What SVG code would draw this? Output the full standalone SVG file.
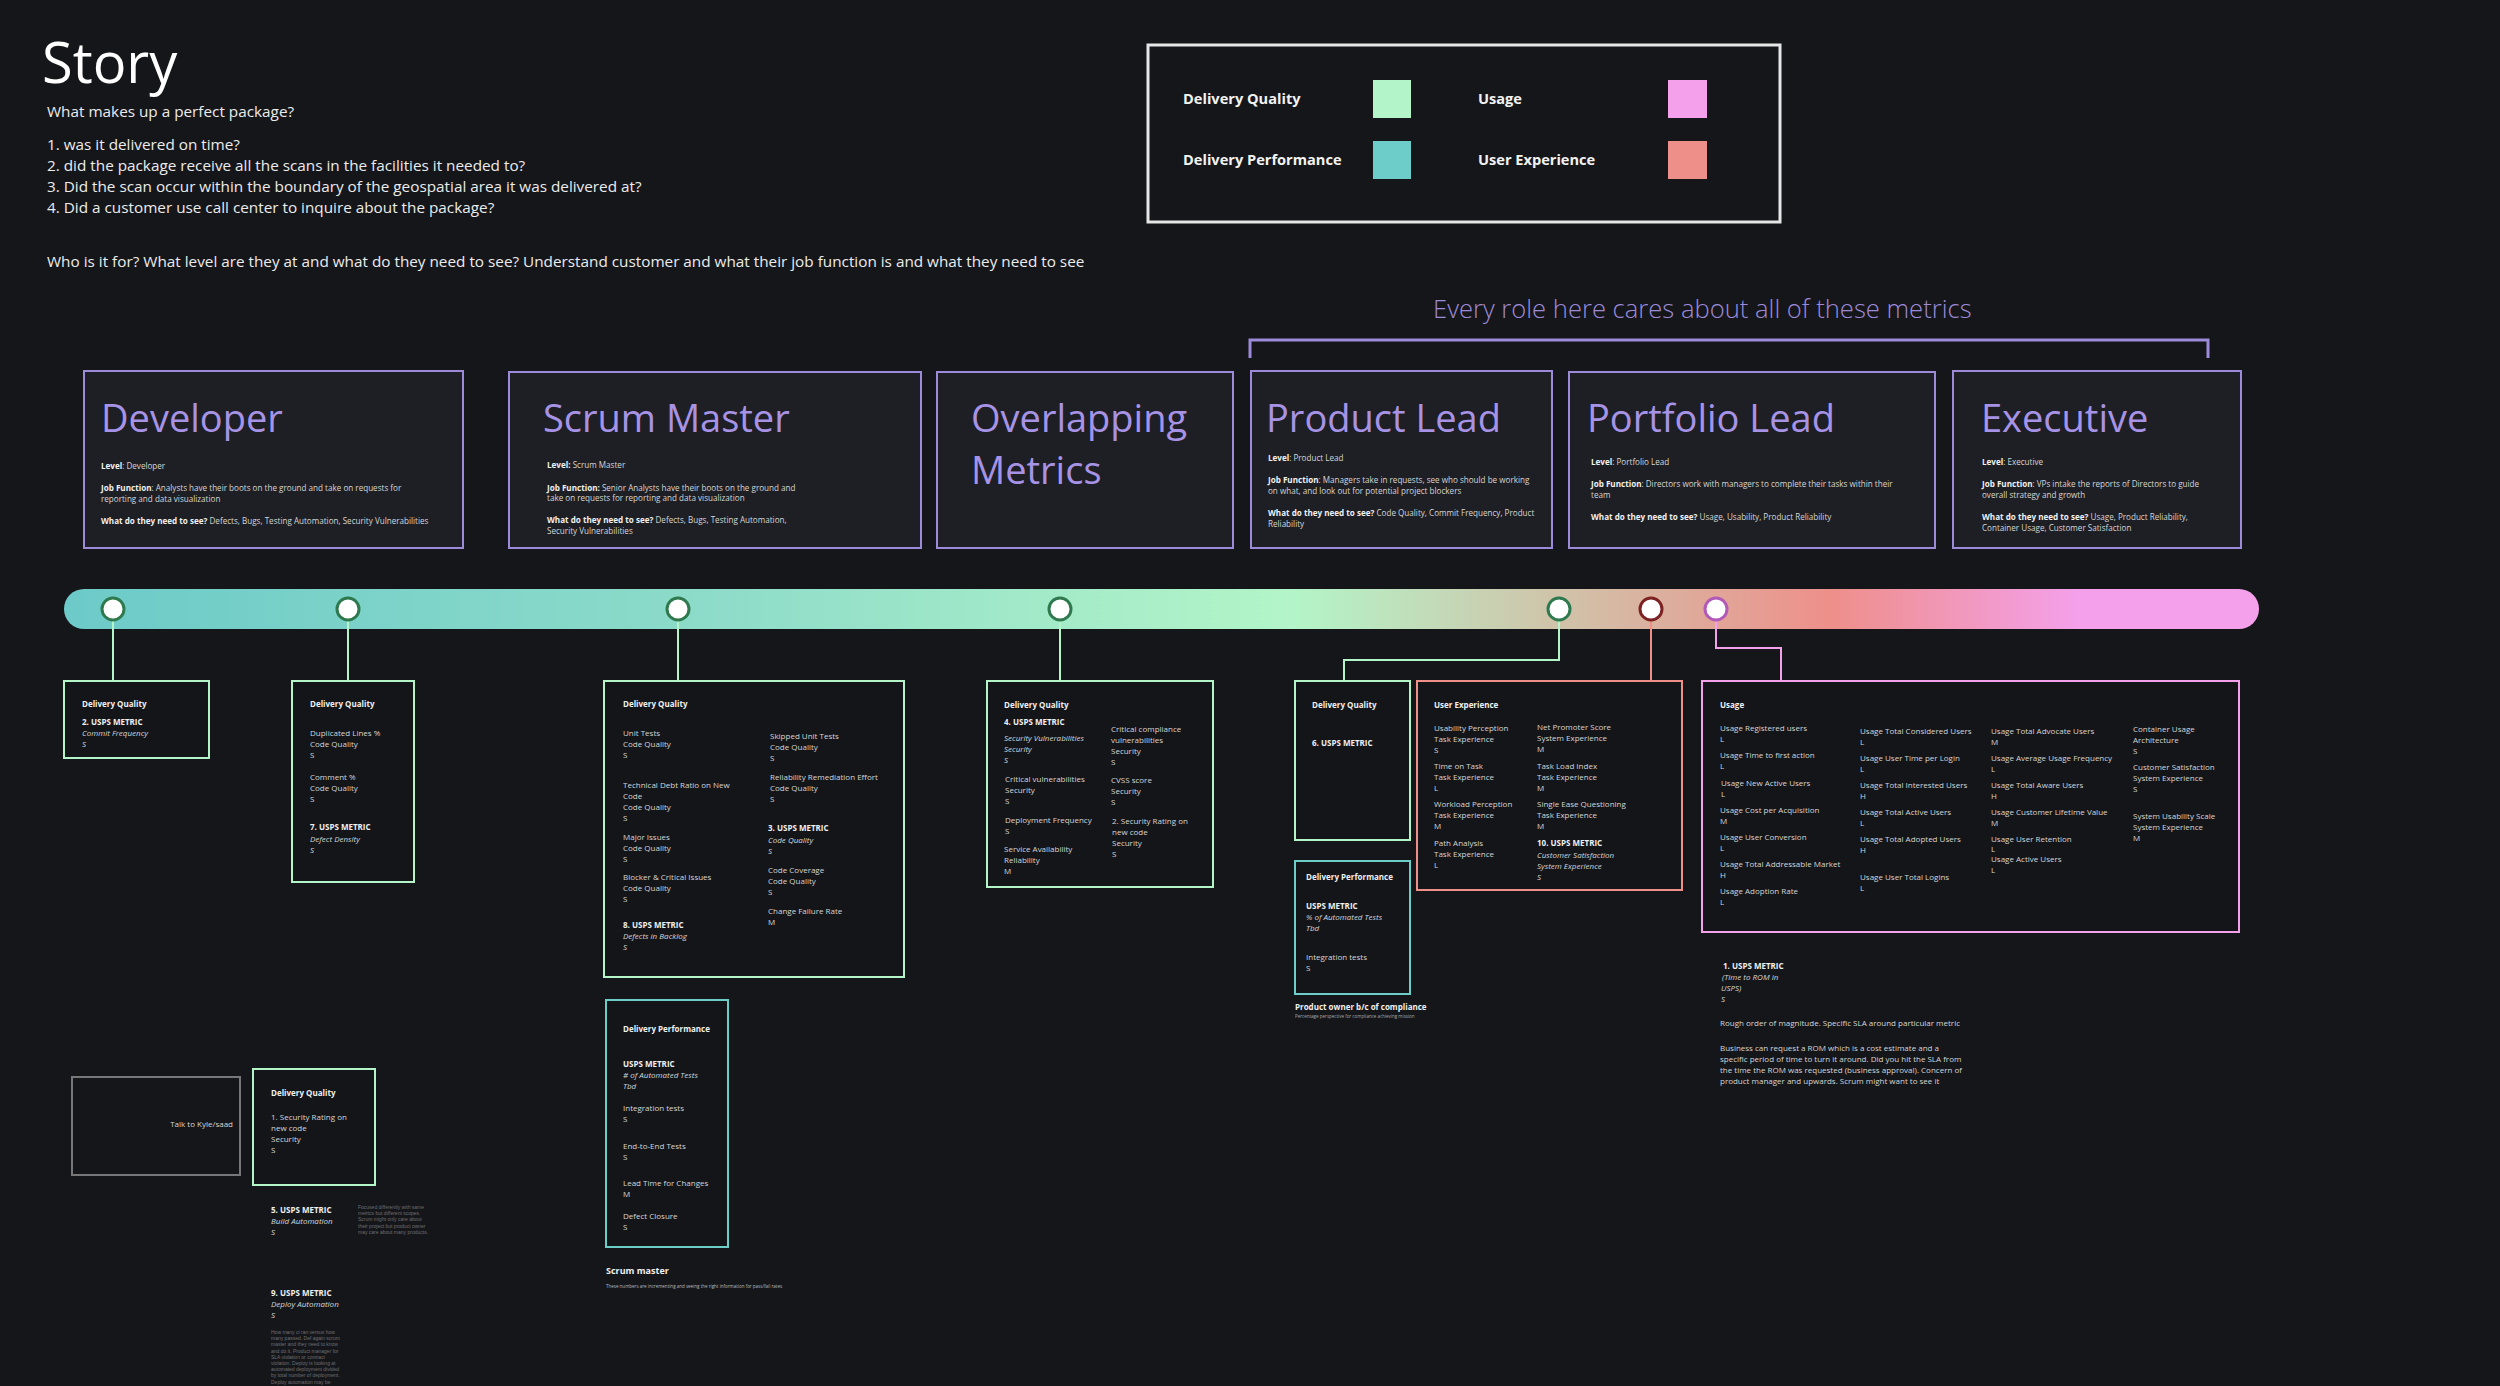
<svg xmlns="http://www.w3.org/2000/svg" width="2500" height="1386" viewBox="0 0 2500 1386">
<defs>
<linearGradient id="tl" x1="64" y1="0" x2="2259" y2="0" gradientUnits="userSpaceOnUse">
<stop offset="0" stop-color="#6ccac8"/>
<stop offset="0.3" stop-color="#8edcc9"/>
<stop offset="0.56" stop-color="#b3f5c8"/>
<stop offset="0.806" stop-color="#ee8f8a"/>
<stop offset="0.917" stop-color="#f4a0ea"/>
<stop offset="1" stop-color="#f4a0ea"/>
</linearGradient>
<style>
text{font-family:"Open Sans","Liberation Sans",sans-serif;fill:#d6d6d6;font-size:8px}
.b{font-weight:bold;fill:#f0f0f0}
.i{font-style:italic}
.q{font-size:15.3px;fill:#ececec}
.cd{font-size:8.1px}
.card{fill:#1e1f24;stroke:#9d8ad9;stroke-width:2}
.title{font-size:38px;fill:#a793e6}
.box{fill:#141519;stroke-width:2}
.dq{stroke:#b3f5c8}
.dp{stroke:#6ccdc9}
.ux{stroke:#ee8f8a}
.us{stroke:#f4a0ea}
.cn{fill:none;stroke-width:2}
.dot{fill:#ffffff;stroke-width:3}
.note{font-family:"Liberation Sans",Arial,sans-serif;font-size:5px;fill:#6e6e72}
.lg{font-size:14.6px;font-weight:bold;fill:#f2f2f2}
</style>
</defs>
<rect width="2500" height="1386" fill="#15161a"/>

<g id="header">
<text x="42" y="83" style="font-size:56px;fill:#ffffff">Story</text>
<text class="q" x="47" y="117">What makes up a perfect package?</text>
<text class="q" x="47" y="150">1. was it delivered on time?</text>
<text class="q" x="47" y="171">2. did the package receive all the scans in the facilities it needed to?</text>
<text class="q" x="47" y="192">3. Did the scan occur within the boundary of the geospatial area it was delivered at?</text>
<text class="q" x="47" y="213">4. Did a customer use call center to inquire about the package?</text>
<text class="q" x="47" y="267">Who is it for? What level are they at and what do they need to see? Understand customer and what their job function is and what they need to see</text>
</g>

<g id="legend">
<rect x="1148" y="45" width="632" height="177" fill="#15161a" stroke="#e6e6e6" stroke-width="3"/>
<text class="lg" x="1183" y="104">Delivery Quality</text>
<rect x="1373" y="80" width="38" height="38" fill="#b3f5c8"/>
<text class="lg" x="1183" y="165">Delivery Performance</text>
<rect x="1373" y="141" width="38" height="38" fill="#6ccdc9"/>
<text class="lg" x="1478" y="104">Usage</text>
<rect x="1668" y="80" width="39" height="38" fill="#f4a0ea"/>
<text class="lg" x="1478" y="165">User Experience</text>
<rect x="1668" y="141" width="39" height="38" fill="#ee8f8a"/>
</g>

<g id="bracket">
<text x="1433" y="318" style="font-size:25.6px;font-weight:300;fill:#9d8ad9">Every role here cares about all of these metrics</text>
<path d="M1250 358 V340 H2208 V358" fill="none" stroke="#9d8ad9" stroke-width="3"/>
</g>

<g id="card-developer">
<rect class="card" x="84" y="371" width="379" height="177"/>
<text class="title" x="101" y="432">Developer</text>
<text class="cd" x="101" y="469"><tspan class="b">Level</tspan>: Developer</text>
<text class="cd" x="101" y="491"><tspan class="b">Job Function</tspan>: Analysts have their boots on the ground and take on requests for</text>
<text class="cd" x="101" y="502">reporting and data visualization</text>
<text class="cd" x="101" y="524"><tspan class="b">What do they need to see?</tspan> Defects, Bugs, Testing Automation, Security Vulnerabilities</text>
</g>

<g id="card-scrum">
<rect class="card" x="509" y="372" width="412" height="176"/>
<text class="title" x="543" y="432">Scrum Master</text>
<text class="cd" x="547" y="468"><tspan class="b">Level:</tspan> Scrum Master</text>
<text class="cd" x="547" y="491"><tspan class="b">Job Function:</tspan> Senior Analysts have their boots on the ground and</text>
<text class="cd" x="547" y="501">take on requests for reporting and data visualization</text>
<text class="cd" x="547" y="523"><tspan class="b">What do they need to see?</tspan> Defects, Bugs, Testing Automation,</text>
<text class="cd" x="547" y="534">Security Vulnerabilities</text>
</g>

<g id="card-overlap">
<rect class="card" x="937" y="372" width="296" height="176"/>
<text class="title" x="971" y="432">Overlapping</text>
<text class="title" x="971" y="484">Metrics</text>
</g>

<g id="card-product">
<rect class="card" x="1251" y="371" width="301" height="177"/>
<text class="title" x="1266" y="432">Product Lead</text>
<text class="cd" x="1268" y="461"><tspan class="b">Level</tspan>: Product Lead</text>
<text class="cd" x="1268" y="483"><tspan class="b">Job Function</tspan>: Managers take in requests, see who should be working</text>
<text class="cd" x="1268" y="494">on what, and look out for potential project blockers</text>
<text class="cd" x="1268" y="516"><tspan class="b">What do they need to see?</tspan> Code Quality, Commit Frequency, Product</text>
<text class="cd" x="1268" y="527">Reliability</text>
</g>

<g id="card-portfolio">
<rect class="card" x="1569" y="372" width="366" height="176"/>
<text class="title" x="1587" y="432">Portfolio Lead</text>
<text class="cd" x="1591" y="465"><tspan class="b">Level</tspan>: Portfolio Lead</text>
<text class="cd" x="1591" y="487"><tspan class="b">Job Function</tspan>: Directors work with managers to complete their tasks within their</text>
<text class="cd" x="1591" y="498">team</text>
<text class="cd" x="1591" y="520"><tspan class="b">What do they need to see?</tspan> Usage, Usability,  Product Reliability</text>
</g>

<g id="card-executive">
<rect class="card" x="1953" y="371" width="288" height="177"/>
<text class="title" x="1981" y="432">Executive</text>
<text class="cd" x="1982" y="465"><tspan class="b">Level</tspan>: Executive</text>
<text class="cd" x="1982" y="487"><tspan class="b">Job Function</tspan>: VPs intake the reports of Directors to guide</text>
<text class="cd" x="1982" y="498">overall strategy and growth</text>
<text class="cd" x="1982" y="520"><tspan class="b">What do they need to see?</tspan> Usage, Product Reliability,</text>
<text class="cd" x="1982" y="531">Container Usage, Customer Satisfaction</text>
</g>

<g id="timeline">
<rect x="64" y="589" width="2195" height="40" rx="20" fill="url(#tl)"/>
</g>

<g id="connectors">
<path class="cn" stroke="#b3f5c8" d="M113 621 V681"/>
<path class="cn" stroke="#b3f5c8" d="M348 621 V681"/>
<path class="cn" stroke="#b3f5c8" d="M678 621 V681"/>
<path class="cn" stroke="#b3f5c8" d="M1060 621 V681"/>
<path class="cn" stroke="#b3f5c8" d="M1559 621 V660 H1344 V681"/>
<path class="cn" stroke="#ee8f8a" d="M1651 621 V681"/>
<path class="cn" stroke="#f4a0ea" d="M1716 621 V648 H1781 V681"/>
</g>

<g id="timeline-dots">
<circle class="dot" cx="113" cy="609" r="11" stroke="#2e7a4e"/>
<circle class="dot" cx="348" cy="609" r="11" stroke="#2e7a4e"/>
<circle class="dot" cx="678" cy="609" r="11" stroke="#2e7a4e"/>
<circle class="dot" cx="1060" cy="609" r="11" stroke="#2e7a4e"/>
<circle class="dot" cx="1559" cy="609" r="11" stroke="#2e7a4e"/>
<circle class="dot" cx="1651" cy="609" r="11" stroke="#7c2222"/>
<circle class="dot" cx="1716" cy="609" r="11" stroke="#b25ab8"/>
</g>

<g id="dev-dq-1">
<rect class="box dq" x="64" y="681" width="145" height="77"/>
<text class="b" x="82" y="707">Delivery Quality</text>
<text class="b" x="82" y="725">2. USPS METRIC</text>
<text class="i" x="82" y="736">Commit Frequency</text>
<text class="i" x="82" y="747">S</text>
</g>

<g id="dev-dq-2">
<rect class="box dq" x="292" y="681" width="122" height="201"/>
<text class="b" x="310" y="707">Delivery Quality</text>
<text x="310" y="736">Duplicated Lines %</text>
<text x="310" y="747">Code Quality</text>
<text x="310" y="758">S</text>
<text x="310" y="780">Comment %</text>
<text x="310" y="791">Code Quality</text>
<text x="310" y="802">S</text>
<text class="b" x="310" y="830">7. USPS METRIC</text>
<text class="i" x="310" y="842">Defect Density</text>
<text class="i" x="310" y="853">S</text>
</g>

<g id="scrum-dq">
<rect class="box dq" x="604" y="681" width="300" height="296"/>
<text class="b" x="623" y="707">Delivery Quality</text>
<text x="623" y="736">Unit Tests</text>
<text x="623" y="747">Code Quality</text>
<text x="623" y="758">S</text>
<text x="623" y="788">Technical Debt Ratio on New</text>
<text x="623" y="799">Code</text>
<text x="623" y="810">Code Quality</text>
<text x="623" y="821">S</text>
<text x="623" y="840">Major Issues</text>
<text x="623" y="851">Code Quality</text>
<text x="623" y="862">S</text>
<text x="623" y="880">Blocker &amp; Critical Issues</text>
<text x="623" y="891">Code Quality</text>
<text x="623" y="902">S</text>
<text class="b" x="623" y="928">8. USPS METRIC</text>
<text class="i" x="623" y="939">Defects in Backlog</text>
<text class="i" x="623" y="950">S</text>
<text x="770" y="739">Skipped Unit Tests</text>
<text x="770" y="750">Code Quality</text>
<text x="770" y="761">S</text>
<text x="770" y="780">Reliability Remediation Effort</text>
<text x="770" y="791">Code Quality</text>
<text x="770" y="802">S</text>
<text class="b" x="768" y="831">3. USPS METRIC</text>
<text class="i" x="768" y="843">Code Quality</text>
<text class="i" x="768" y="854">S</text>
<text x="768" y="873">Code Coverage</text>
<text x="768" y="884">Code Quality</text>
<text x="768" y="895">S</text>
<text x="768" y="914">Change Failure Rate</text>
<text x="768" y="925">M</text>
</g>

<g id="scrum-dp">
<rect class="box dp" x="606" y="1000" width="122" height="247"/>
<text class="b" x="623" y="1032">Delivery Performance</text>
<text class="b" x="623" y="1067">USPS METRIC</text>
<text class="i" x="623" y="1078"># of Automated Tests</text>
<text class="i" x="623" y="1089">Tbd</text>
<text x="623" y="1111">Integration tests</text>
<text x="623" y="1122">S</text>
<text x="623" y="1149">End-to-End Tests</text>
<text x="623" y="1160">S</text>
<text x="623" y="1186">Lead Time for Changes</text>
<text x="623" y="1197">M</text>
<text x="623" y="1219">Defect Closure</text>
<text x="623" y="1230">S</text>
<text class="b" x="606" y="1274" style="font-size:9px">Scrum master</text>
<text x="606" y="1288" style="font-size:4.5px;fill:#bbbbbb">These numbers are incrementing and seeing the right information for pass/fail rates</text>
</g>

<g id="overlap-dq">
<rect class="box dq" x="987" y="681" width="226" height="206"/>
<text class="b" x="1004" y="708">Delivery Quality</text>
<text class="b" x="1004" y="725">4. USPS METRIC</text>
<text class="i" x="1004" y="741">Security Vulnerabilities</text>
<text class="i" x="1004" y="752">Security</text>
<text class="i" x="1004" y="763">S</text>
<text x="1005" y="782">Critical vulnerabilities</text>
<text x="1005" y="793">Security</text>
<text x="1005" y="804">S</text>
<text x="1005" y="823">Deployment Frequency</text>
<text x="1005" y="834">S</text>
<text x="1004" y="852">Service Availability</text>
<text x="1004" y="863">Reliability</text>
<text x="1004" y="874">M</text>
<text x="1111" y="732">Critical compliance</text>
<text x="1111" y="743">vulnerabilities</text>
<text x="1111" y="754">Security</text>
<text x="1111" y="765">S</text>
<text x="1111" y="783">CVSS score</text>
<text x="1111" y="794">Security</text>
<text x="1111" y="805">S</text>
<text x="1112" y="824">2. Security Rating on</text>
<text x="1112" y="835">new code</text>
<text x="1112" y="846">Security</text>
<text x="1112" y="857">S</text>
</g>

<g id="product-dq">
<rect class="box dq" x="1295" y="681" width="115" height="159"/>
<text class="b" x="1312" y="708">Delivery Quality</text>
<text class="b" x="1312" y="746">6. USPS METRIC</text>
</g>

<g id="product-dp">
<rect class="box dp" x="1295" y="861" width="115" height="133"/>
<text class="b" x="1306" y="880">Delivery Performance</text>
<text class="b" x="1306" y="909">USPS METRIC</text>
<text class="i" x="1306" y="920">% of Automated Tests</text>
<text class="i" x="1306" y="931">Tbd</text>
<text x="1306" y="960">Integration tests</text>
<text x="1306" y="971">S</text>
<text class="b" x="1295" y="1010">Product owner b/c of compliance</text>
<text x="1295" y="1018" style="font-size:4.5px;fill:#aaaaaa">Percentage perspective for compliance achieving mission</text>
</g>

<g id="portfolio-ux">
<rect class="box ux" x="1417" y="681" width="265" height="209"/>
<text class="b" x="1434" y="708">User Experience</text>
<text x="1434" y="731">Usability Perception</text>
<text x="1434" y="742">Task Experience</text>
<text x="1434" y="753">S</text>
<text x="1434" y="769">Time on Task</text>
<text x="1434" y="780">Task Experience</text>
<text x="1434" y="791">L</text>
<text x="1434" y="807">Workload Perception</text>
<text x="1434" y="818">Task Experience</text>
<text x="1434" y="829">M</text>
<text x="1434" y="846">Path Analysis</text>
<text x="1434" y="857">Task Experience</text>
<text x="1434" y="868">L</text>
<text x="1537" y="730">Net Promoter Score</text>
<text x="1537" y="741">System Experience</text>
<text x="1537" y="752">M</text>
<text x="1537" y="769">Task Load Index</text>
<text x="1537" y="780">Task Experience</text>
<text x="1537" y="791">M</text>
<text x="1537" y="807">Single Ease Questioning</text>
<text x="1537" y="818">Task Experience</text>
<text x="1537" y="829">M</text>
<text class="b" x="1537" y="846">10. USPS METRIC</text>
<text class="i" x="1537" y="858">Customer Satisfaction</text>
<text class="i" x="1537" y="869">System Experience</text>
<text class="i" x="1537" y="880">S</text>
</g>

<g id="usage">
<rect class="box us" x="1702" y="681" width="537" height="251"/>
<text class="b" x="1720" y="708">Usage</text>
<text x="1720" y="731">Usage Registered users</text>
<text x="1720" y="742">L</text>
<text x="1720" y="758">Usage Time to first action</text>
<text x="1720" y="769">L</text>
<text x="1721" y="786">Usage New Active Users</text>
<text x="1721" y="797">L</text>
<text x="1720" y="813">Usage Cost per Acquisition</text>
<text x="1720" y="824">M</text>
<text x="1720" y="840">Usage User Conversion</text>
<text x="1720" y="851">L</text>
<text x="1720" y="867">Usage Total Addressable Market</text>
<text x="1720" y="878">H</text>
<text x="1720" y="894">Usage Adoption Rate</text>
<text x="1720" y="905">L</text>
<text x="1860" y="734">Usage Total Considered Users</text>
<text x="1860" y="745">L</text>
<text x="1860" y="761">Usage User Time per Login</text>
<text x="1860" y="772">L</text>
<text x="1860" y="788">Usage Total Interested Users</text>
<text x="1860" y="799">H</text>
<text x="1860" y="815">Usage Total Active Users</text>
<text x="1860" y="826">L</text>
<text x="1860" y="842">Usage Total Adopted Users</text>
<text x="1860" y="853">H</text>
<text x="1860" y="880">Usage User Total Logins</text>
<text x="1860" y="891">L</text>
<text x="1991" y="734">Usage Total Advocate Users</text>
<text x="1991" y="745">M</text>
<text x="1991" y="761">Usage Average Usage Frequency</text>
<text x="1991" y="772">L</text>
<text x="1991" y="788">Usage Total Aware Users</text>
<text x="1991" y="799">H</text>
<text x="1991" y="815">Usage Customer Lifetime Value</text>
<text x="1991" y="826">M</text>
<text x="1991" y="842">Usage User Retention</text>
<text x="1991" y="852">L</text>
<text x="1991" y="862">Usage Active Users</text>
<text x="1991" y="873">L</text>
<text x="2133" y="732">Container Usage</text>
<text x="2133" y="743">Architecture</text>
<text x="2133" y="754">S</text>
<text x="2133" y="770">Customer Satisfaction</text>
<text x="2133" y="781">System Experience</text>
<text x="2133" y="792">S</text>
<text x="2133" y="819">System Usability Scale</text>
<text x="2133" y="830">System Experience</text>
<text x="2133" y="841">M</text>
</g>

<g id="usage-notes">
<text class="b" x="1723" y="969">1. USPS METRIC</text>
<text class="i" x="1722" y="980">(Time to ROM in</text>
<text class="i" x="1721" y="991">USPS)</text>
<text class="i" x="1721" y="1002">S</text>
<text x="1720" y="1026">Rough order of magnitude. Specific SLA around particular metric</text>
<text x="1720" y="1051">Business can request a ROM which is a cost estimate and a</text>
<text x="1720" y="1062">specific period of time to turn it around. Did you hit the SLA from</text>
<text x="1720" y="1073">the time the ROM was requested (business approval). Concern of</text>
<text x="1720" y="1084">product manager and upwards. Scrum might want to see it</text>
</g>

<g id="talk-box">
<rect x="72" y="1077" width="168" height="98" fill="#15161a" stroke="#77777a" stroke-width="2"/>
<text x="233" y="1127" text-anchor="end">Talk to Kyle/saad</text>
</g>

<g id="dev-dq-3">
<rect class="box dq" x="253" y="1069" width="122" height="116"/>
<text class="b" x="271" y="1096">Delivery Quality</text>
<text x="271" y="1120">1. Security Rating on</text>
<text x="271" y="1131">new code</text>
<text x="271" y="1142">Security</text>
<text x="271" y="1153">S</text>
</g>

<g id="dev-notes">
<text class="b" x="271" y="1213">5. USPS METRIC</text>
<text class="i" x="271" y="1224">Build Automation</text>
<text class="i" x="271" y="1235">S</text>
<text class="note" x="358" y="1209">Focused differently with same</text>
<text class="note" x="358" y="1215.2">metrics but different scopes.</text>
<text class="note" x="358" y="1221.4">Scrum might only care about</text>
<text class="note" x="358" y="1227.6">their project but product owner</text>
<text class="note" x="358" y="1233.8">may care about many products.</text>
<text class="b" x="271" y="1296">9. USPS METRIC</text>
<text class="i" x="271" y="1307">Deploy Automation</text>
<text class="i" x="271" y="1318">S</text>
<text class="note" x="271" y="1334">How many ci ran versus how</text>
<text class="note" x="271" y="1340.2">many passed. Def again scrum</text>
<text class="note" x="271" y="1346.4">master and they need to know</text>
<text class="note" x="271" y="1352.6">and do it. Product manager for</text>
<text class="note" x="271" y="1358.8">SLA violation or contract</text>
<text class="note" x="271" y="1365">violation. Deploy is looking at</text>
<text class="note" x="271" y="1371.2">automated deployment divided</text>
<text class="note" x="271" y="1377.4">by total number of deployment.</text>
<text class="note" x="271" y="1383.6">Deploy automation may be</text>
</g>
</svg>
